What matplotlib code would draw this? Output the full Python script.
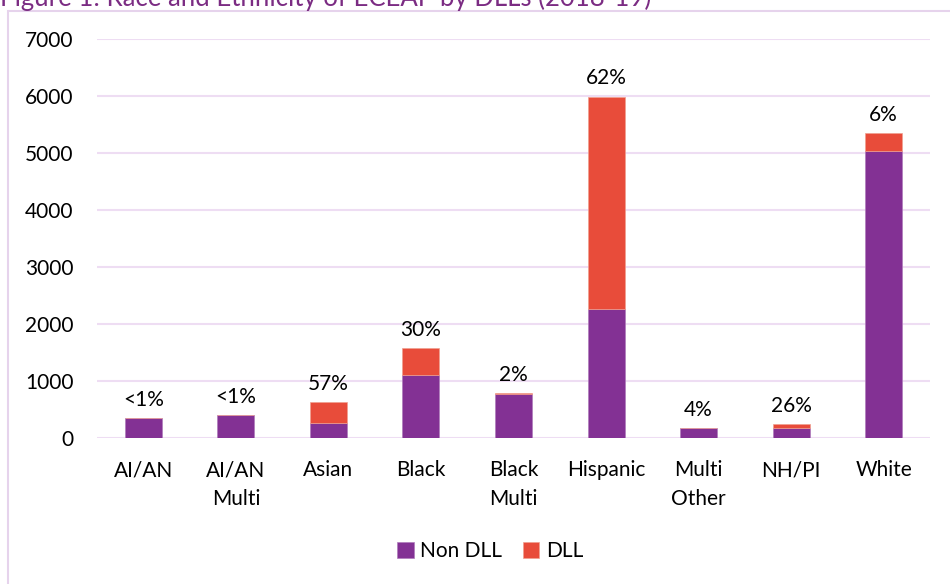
import matplotlib
matplotlib.use("Agg")
import matplotlib.pyplot as plt
import numpy as np
from matplotlib.patches import Rectangle

categories = ["AI/AN", "AI/AN\nMulti", "Asian", "Black", "Black\nMulti",
              "Hispanic", "Multi\nOther", "NH/PI", "White"]
non_dll = [345, 400, 270, 1100, 775, 2270, 168, 181, 5030]
dll = [3, 3, 360, 475, 16, 3720, 7, 64, 320]
pct_labels = ["<1%", "<1%", "57%", "30%", "2%", "62%", "4%", "26%", "6%"]
yticks = [0, 1000, 2000, 3000, 4000, 5000, 6000, 7000]

PURPLE = "#833194"
RED = "#E84C3A"
GRID = "#EEDDF3"
FS = 15

plt.rcParams["font.family"] = ["Lato", "DejaVu Sans"]

fig = plt.figure(figsize=(9.5, 5.84), dpi=100)
ax = fig.add_axes([97 / 950, 1 - 438 / 584, 833 / 950, 399 / 584])

# Outer chart frame
fig.patches.append(Rectangle((8 / 950, -0.1), 1.1, 1.1 - 11 / 584,
                             transform=fig.transFigure, fill=False,
                             edgecolor="#E6D3EC", linewidth=1.5))

x = np.arange(len(categories))
w = 0.4
ax.bar(x, non_dll, w, color=PURPLE, edgecolor="#B07DBB", linewidth=0.5,
       label="Non DLL", zorder=3)
ax.bar(x, dll, w, bottom=non_dll, color=RED, edgecolor="#F0A090",
       linewidth=0.5, label="DLL", zorder=3)

totals = np.array(non_dll) + np.array(dll)
for xi, t, lab in zip(x, totals, pct_labels):
    ax.annotate(lab, (xi, t), xytext=(0, 6), textcoords="offset points",
                ha="center", va="bottom", fontsize=FS, color="black")

ax.set_xlim(-0.5, len(categories) - 0.5)
ax.set_ylim(0, 7000)
ax.set_yticks(yticks)
ax.set_yticklabels([str(v) for v in yticks], fontsize=FS)
ax.set_xticks(x)
ax.set_xticklabels(categories, fontsize=FS, linespacing=1.55)
ax.tick_params(axis="y", length=0, pad=17)
ax.tick_params(axis="x", length=0, pad=16)
ax.yaxis.grid(True, color=GRID, linewidth=1.5, zorder=0)
for s in ax.spines.values():
    s.set_visible(False)

fig.text(0.0, 1.0 + 0.003, "Figure 1: Race and Ethnicity of ECEAP by DLLs (2018-19)",
         color="#7B2C83", fontsize=18.5, ha="left", va="center")

fig.legend(handles=ax.get_legend_handles_labels()[0],
           labels=["Non DLL", "DLL"], loc="center",
           bbox_to_anchor=(490 / 950, 1 - 551 / 584), ncol=2, frameon=False,
           fontsize=FS, handlelength=0.8, handleheight=0.8,
           handletextpad=0.3, columnspacing=1.0)

fig.savefig("out.png", dpi=100)
